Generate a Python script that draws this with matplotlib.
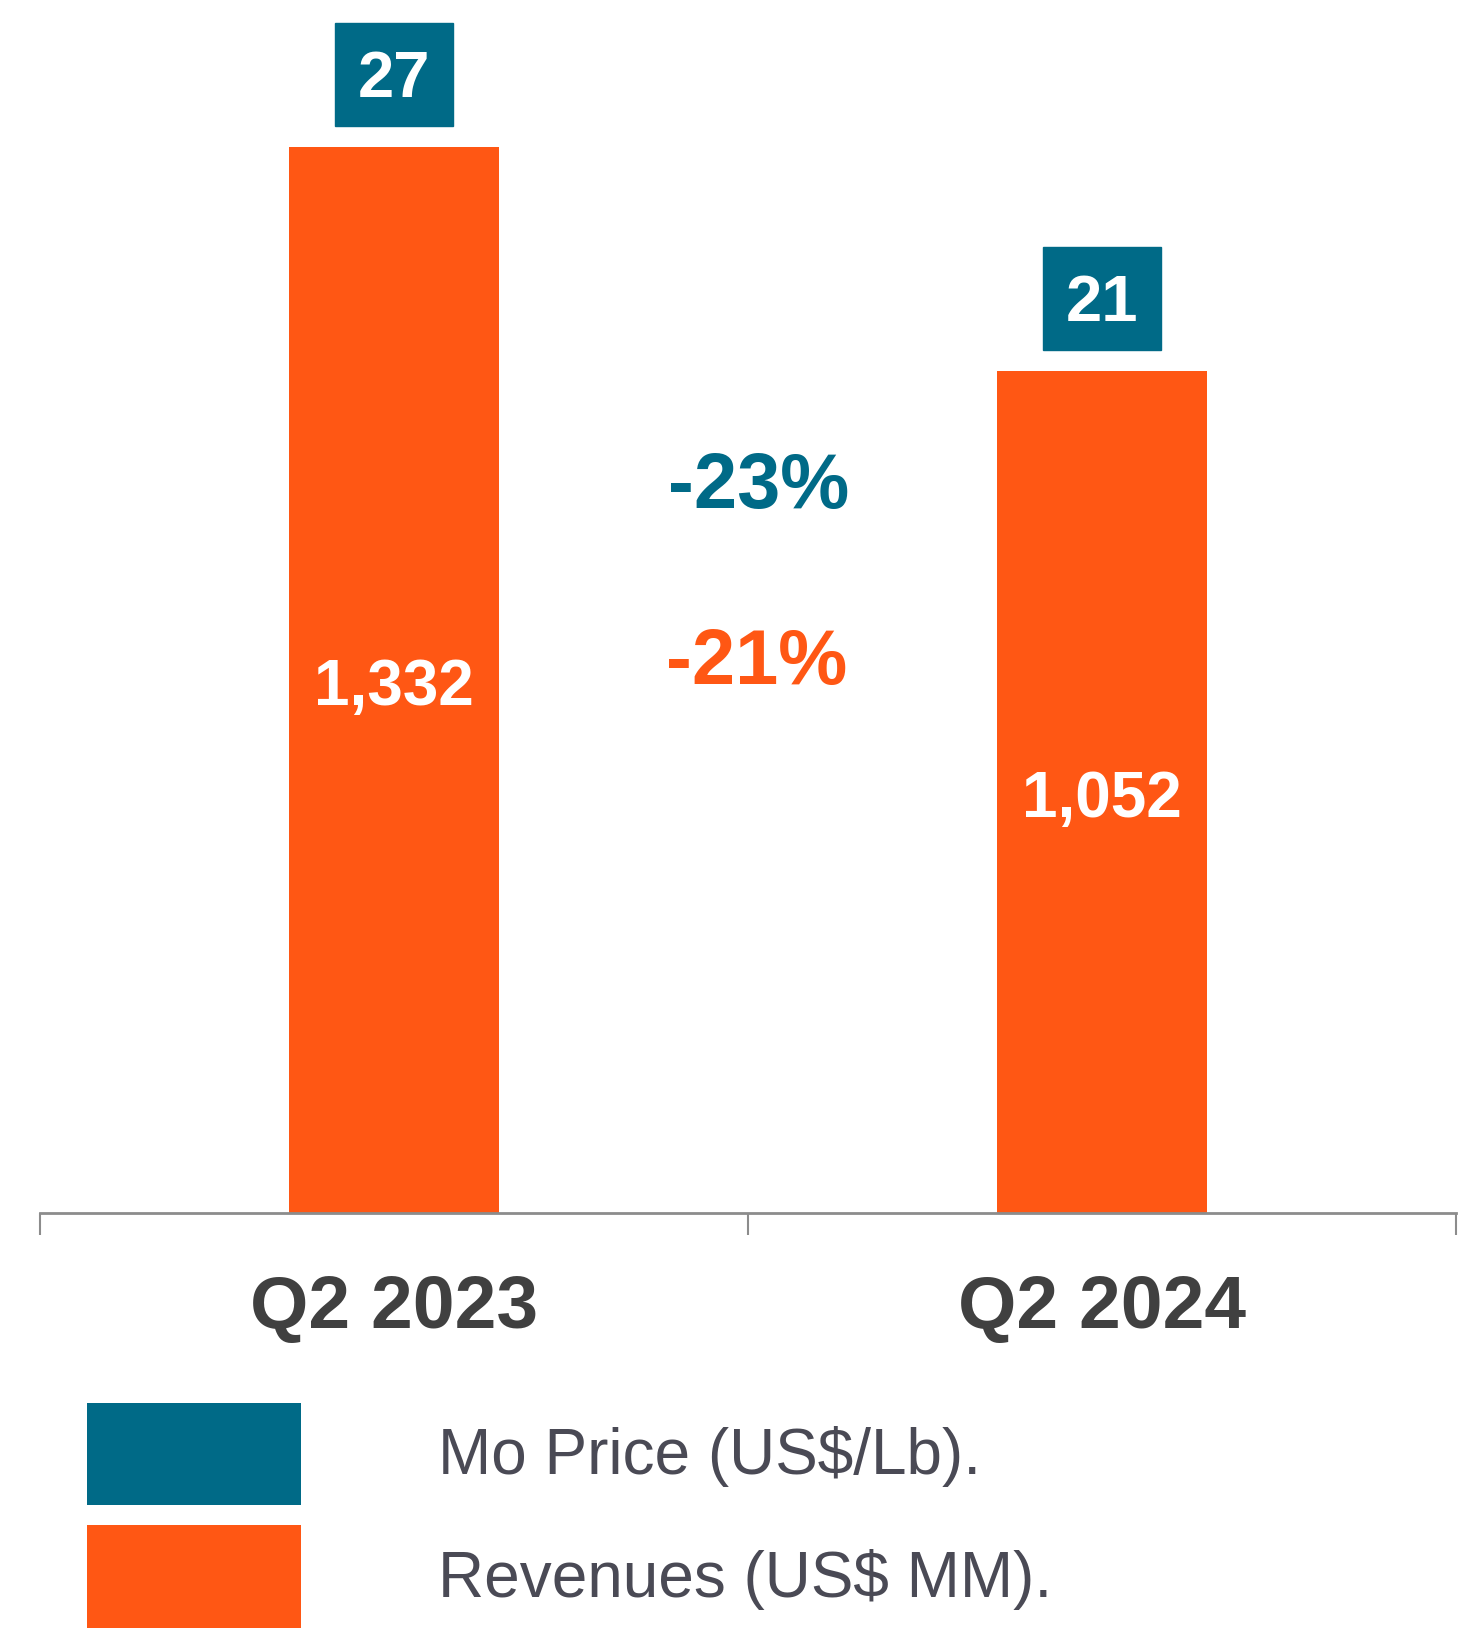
import numpy as np
import matplotlib.pyplot as plt
from matplotlib.patches import Rectangle, Patch

plt.rcParams['font.family'] = ['Liberation Sans', 'DejaVu Sans']

quarters = ['Q2 2023', 'Q2 2024']
revenues = [1332, 1052]
mo_price = [27, 21]
changes = ['-23%', '-21%']

teal = '#006A87'
orange = '#FF5714'

fig = plt.figure(figsize=(14.6, 16.42), dpi=100)
ax = fig.add_axes([40/1460, 429/1642, 1416/1460, 1213/1642])

x = np.arange(len(quarters))
bars = ax.bar(x, revenues, width=0.298, color=orange, zorder=2)
ax.set_xlim(-0.5, 1.5)
ax.set_ylim(0, 1516)

# revenue labels inside bars
for xi, v in zip(x, revenues):
    ax.text(xi, v/2 - 10, f'{v:,}', ha='center', va='center', color='white',
            fontsize=46, fontweight='bold')

# price boxes above bars
bw, bh, gap = 0.167, 129, 26
for xi, v, p in zip(x, revenues, mo_price):
    ax.add_patch(Rectangle((xi - bw/2, v + gap), bw, bh, color=teal,
                           clip_on=False, zorder=3))
    ax.text(xi, v + gap + bh/2 - 7, str(p), ha='center', va='center', color='white',
            fontsize=47, fontweight='bold', zorder=4)

# change labels in between
ax.text(0.515, 907, changes[0], ha='center', va='center', color=teal,
        fontsize=56, fontweight='bold')
ax.text(0.512, 687, changes[1], ha='center', va='center', color=orange,
        fontsize=56, fontweight='bold')

for s in ['top', 'right', 'left']:
    ax.spines[s].set_visible(False)
ax.spines['bottom'].set_color('#8c8c8c')
ax.spines['bottom'].set_linewidth(2)
ax.set_yticks([])
ax.set_xticks(x)
ax.set_xticklabels(quarters, fontsize=54, fontweight='bold', color='#404040')
ax.tick_params(axis='x', which='major', length=0, pad=44)
ax.set_xticks([-0.5, 0.5, 1.5], minor=True)
ax.tick_params(axis='x', which='minor', length=16, width=1.5, color='#8c8c8c')

handles = [Patch(facecolor=teal, edgecolor='none', label='Mo Price (US$/Lb).'),
           Patch(facecolor=orange, edgecolor='none', label='Revenues (US$ MM).')]
leg = fig.legend(handles=handles, loc='upper left',
                 bbox_to_anchor=(87/1460, 1 - 1403/1642), frameon=False,
                 fontsize=46, handlelength=3.35, handleheight=2.09,
                 handletextpad=2.14, labelspacing=0.31, borderpad=0,
                 borderaxespad=0)
for t in leg.get_texts():
    t.set_color('#4A4A55')

fig.savefig('out.png', dpi=100)
